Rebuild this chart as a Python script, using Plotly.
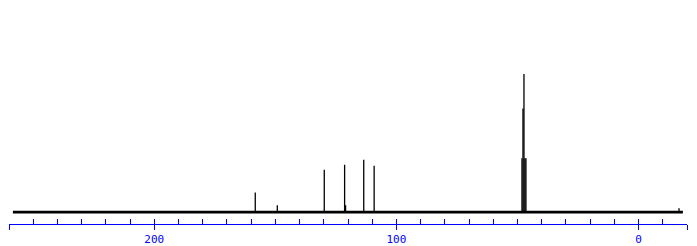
import plotly.graph_objects as go

# --- data (13C NMR spectrum, ppm vs relative intensity) ---
peak_ppm = [158.3, 149.2, 129.8, 121.4, 121.0, 113.5, 109.2,
            48.15, 47.74, 47.33, 46.92, 46.51, -16.7]
peak_intensity = [14.3, 5.0, 30.7, 34.3, 5.0, 37.9, 33.6,
                  39.0, 75.0, 100.0, 39.0, 39.0, 2.9]
baseline_ppm = [258.4, -18.3]
baseline_intensity = [0.0, 0.0]

axis_range = [260, -20]
label_ticks = [260, 200, 100, 0, -20]
label_text = ["", "200", "100", "0", ""]
minor_step = 10

# build stick segments from the peak lists
sx, sy = [], []
for p, h in zip(peak_ppm, peak_intensity):
    sx += [p, p, None]
    sy += [0, h, None]

BLUE = "#0000ff"
fig = go.Figure()
fig.add_trace(go.Scatter(x=baseline_ppm, y=baseline_intensity, mode="lines",
                         line=dict(color="black", width=2.6), xaxis="x2",
                         hoverinfo="skip", showlegend=False))
fig.add_trace(go.Scatter(x=sx, y=sy, mode="lines",
                         line=dict(color="black", width=1.3),
                         showlegend=False))

fig.update_layout(
    width=697, height=246,
    margin=dict(l=9, r=10, t=0, b=19),
    paper_bgcolor="white", plot_bgcolor="white",
    showlegend=False,
    xaxis=dict(range=axis_range, showgrid=False, zeroline=False,
               showline=True, linecolor=BLUE, linewidth=1,
               ticks="outside", ticklen=5, tickcolor=BLUE, tickwidth=1,
               tickmode="array", tickvals=label_ticks, ticktext=label_text,
               tickfont=dict(family="DejaVu Sans Mono", size=11, color=BLUE),
               fixedrange=True),
    xaxis2=dict(range=axis_range, overlaying="x", anchor="y", side="bottom",
                showgrid=False, zeroline=False, showline=False,
                ticks="inside", ticklen=5, tickcolor=BLUE, tickwidth=1,
                tick0=0, dtick=minor_step, showticklabels=False,
                fixedrange=True),
    yaxis=dict(range=[-8.57, 153.57], visible=False, fixedrange=True),
)

fig.write_html("out.html")
